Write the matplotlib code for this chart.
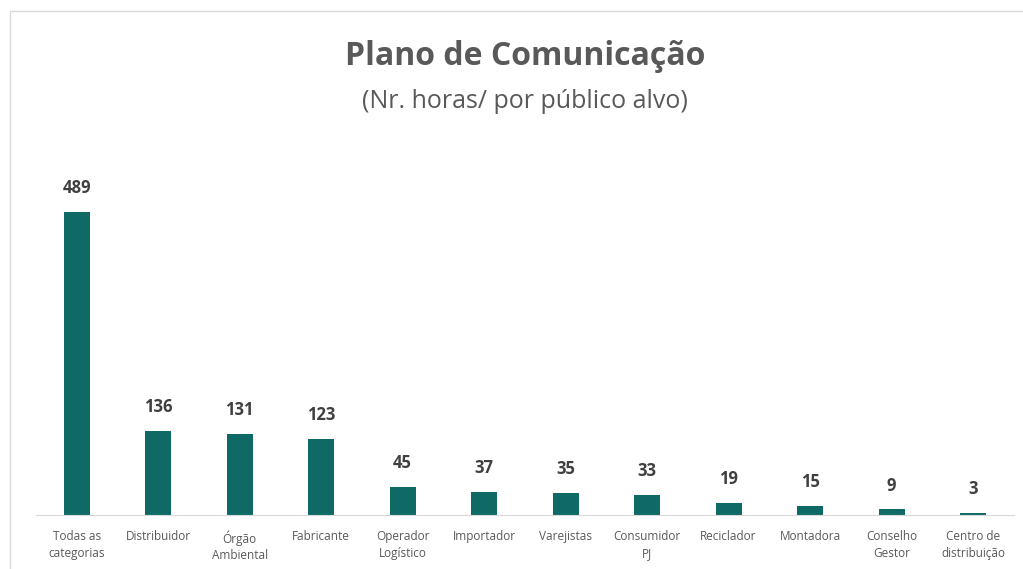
import matplotlib.pyplot as plt
from matplotlib.patches import Rectangle

categorias = ['Todas as\ncategorias', 'Distribuidor', 'Órgão\nAmbiental', 'Fabricante',
              'Operador\nLogístico', 'Importador', 'Varejistas', 'Consumidor\nPJ',
              'Reciclador', 'Montadora', 'Conselho\nGestor', 'Centro de\ndistribuição']
horas = [489, 136, 131, 123, 45, 37, 35, 33, 19, 15, 9, 3]

plt.rcParams['font.family'] = ['Open Sans', 'DejaVu Sans']

fig = plt.figure(figsize=(10.23, 5.69), dpi=100)
ax = fig.add_axes([0.0352, 0.0949, 0.9558, 0.6538])

# moldura clara do gráfico
fig.patches.append(Rectangle((10 / 1023, -0.1), 1.2, 1 - 11 / 569 + 0.1,
                             transform=fig.transFigure, fill=False,
                             edgecolor='#d9d9d9', linewidth=1))

x = range(len(horas))
bars = ax.bar(x, horas, width=0.32, color='#0f6a65')
for b, v in zip(bars, horas):
    ax.text(b.get_x() + b.get_width() / 2, v + 24, str(v), ha='center', va='bottom',
            fontsize=12, fontweight='bold', color='#404040')

ax.set_xlim(-0.5, len(horas) - 0.5)
ax.set_ylim(0, 600)
ax.set_xticks(list(x))
ax.set_xticklabels(categorias, fontsize=8.5, color='#595959', linespacing=1.35)
ax.tick_params(axis='x', length=0, pad=11)
ax.set_yticks([])
for s in ['top', 'right', 'left']:
    ax.spines[s].set_visible(False)
ax.spines['bottom'].set_color('#d9d9d9')

fig.text(0.513, 0.9, 'Plano de Comunicação', ha='center', va='center',
         fontsize=23, fontweight='bold', color='#595959')
fig.text(0.513, 0.822, '(Nr. horas/ por público alvo)', ha='center', va='center',
         fontsize=18, color='#595959')

fig.savefig('out.png')
